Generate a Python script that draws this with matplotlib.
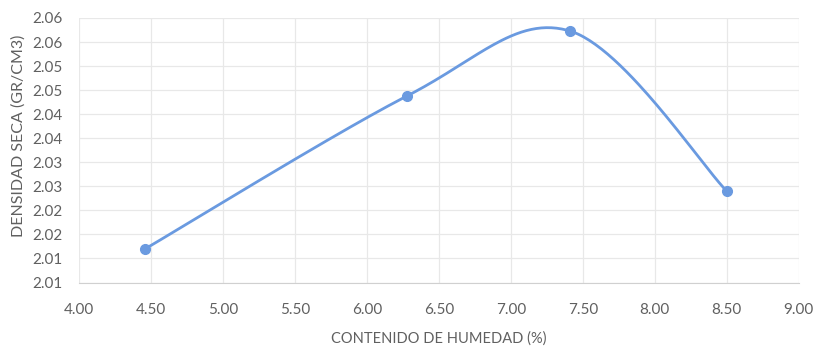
import numpy as np
import matplotlib.pyplot as plt

humedad = [4.46, 6.28, 7.41, 8.50]
densidad = [2.0120, 2.0438, 2.0573, 2.0240]

x_ticks = [4.0, 4.5, 5.0, 5.5, 6.0, 6.5, 7.0, 7.5, 8.0, 8.5, 9.0]
x_tick_labels = ["4.00", "4.50", "5.00", "5.50", "6.00", "6.50",
                 "7.00", "7.50", "8.00", "8.50", "9.00"]
y_ticks = [2.005, 2.010, 2.015, 2.020, 2.025, 2.030,
           2.035, 2.040, 2.045, 2.050, 2.055, 2.060]
y_tick_labels = ["2.01", "2.01", "2.02", "2.02", "2.03", "2.03",
                 "2.04", "2.04", "2.05", "2.05", "2.06", "2.06"]

LINE = "#6a9ae0"
TXT = "#606060"


def smooth_curve(xs, ys, n=60):
    # Excel-like smoothed line: cubic Bezier through points, Catmull-Rom tangents
    p = np.column_stack([xs, ys]).astype(float)
    out = []
    for i in range(len(p) - 1):
        prev = p[i - 1] if i > 0 else p[i]
        nxt = p[i + 2] if i + 2 < len(p) else p[i + 1]
        c1 = p[i] + (p[i + 1] - prev) / 6
        c2 = p[i + 1] - (nxt - p[i]) / 6
        t = np.linspace(0, 1, n)[:, None]
        seg = ((1 - t) ** 3 * p[i] + 3 * (1 - t) ** 2 * t * c1
               + 3 * (1 - t) * t ** 2 * c2 + t ** 3 * p[i + 1])
        out.append(seg)
    out = np.vstack(out)
    return out[:, 0], out[:, 1]


plt.rcParams["font.family"] = ["Lato", "DejaVu Sans"]

fig = plt.figure(figsize=(8.16, 3.49), dpi=100)
ax = fig.add_axes([0.0968, 0.1905, 0.882, 0.758])

sx, sy = smooth_curve(humedad, densidad)
ax.plot(sx, sy, color=LINE, lw=2.0, solid_capstyle="round", zorder=3)
ax.plot(humedad, densidad, "o", color=LINE, ms=7, zorder=4)

ax.set_xlim(4.0, 9.0)
ax.set_ylim(2.005, 2.060)
ax.set_xticks(x_ticks)
ax.set_xticklabels(x_tick_labels)
ax.set_yticks(y_ticks)
ax.set_yticklabels(y_tick_labels)

ax.grid(True, color="#e8e8e8", lw=0.9)
ax.set_axisbelow(True)
for side in ["top", "right", "left"]:
    ax.spines[side].set_visible(False)
ax.spines["bottom"].set_color("#d0d0d0")
ax.tick_params(axis="both", length=0, colors=TXT, labelsize=11)
ax.tick_params(axis="x", pad=15)
ax.tick_params(axis="y", pad=12)

ax.set_xlabel("CONTENIDO DE HUMEDAD (%)", color=TXT, fontsize=10.5, labelpad=10)
ax.set_ylabel("DENSIDAD SECA (GR/CM3)", color=TXT, fontsize=11.5)
ax.yaxis.set_label_coords(-0.074, 0.553)

fig.savefig("out.png", dpi=100, facecolor="white")
